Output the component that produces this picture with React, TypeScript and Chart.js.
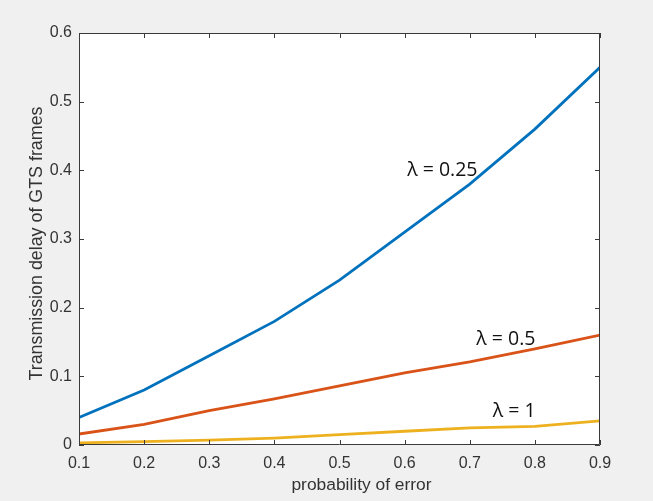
import { useEffect, useRef } from 'react';
import { Chart, registerables } from 'chart.js';

Chart.register(...registerables);

const errorProbability = [0.1, 0.2, 0.3, 0.4, 0.5, 0.6, 0.7, 0.8, 0.9];
const delayLambda025 = [0.04, 0.08, 0.13, 0.18, 0.24, 0.31, 0.38, 0.46, 0.55];
const delayLambda05 = [0.016, 0.03, 0.05, 0.067, 0.086, 0.105, 0.121, 0.14, 0.16];
const delayLambda1 = [0.003, 0.005, 0.007, 0.01, 0.015, 0.02, 0.025, 0.027, 0.035];

const xTickValues = [0.1, 0.2, 0.3, 0.4, 0.5, 0.6, 0.7, 0.8, 0.9];
const yTickValues = [0, 0.1, 0.2, 0.3, 0.4, 0.5, 0.6];

const seriesNames = ['λ = 0.25', 'λ = 0.5', 'λ = 1'];
const annotationX = [0.604, 0.71, 0.7355];
const annotationY = [0.392, 0.1456, 0.041];

const xTitle = 'probability of error';
const yTitle = 'Transmission delay of GTS frames';

const COLORS = ['#0072BD', '#D95319', '#EDB120'];
const AXIS_COLOR = '#3a3a3a';
const TEXT_COLOR = '#333333';

const matlabFrame = {
  id: 'matlabFrame',
  beforeDraw(chart: any) {
    const { ctx, chartArea: a, width, height } = chart;
    ctx.save();
    ctx.fillStyle = '#f0f0f0';
    ctx.fillRect(0, 0, width, height);
    ctx.fillStyle = '#ffffff';
    ctx.fillRect(a.left, a.top, a.right - a.left, a.bottom - a.top);
    ctx.restore();
  },
  afterDraw(chart: any) {
    const { ctx, chartArea: a, scales } = chart;
    ctx.save();
    // series annotations
    ctx.font = '19.5px "Open Sans"';
    ctx.fillStyle = '#111111';
    ctx.textAlign = 'left';
    ctx.textBaseline = 'alphabetic';
    seriesNames.forEach((name, i) => {
      const px = scales.x.getPixelForValue(annotationX[i]);
      const py = scales.y.getPixelForValue(annotationY[i]);
      ctx.fillText(name, px, py);
    });
    // axis titles
    ctx.fillStyle = TEXT_COLOR;
    ctx.font = '17.4px "Liberation Sans"';
    ctx.textAlign = 'center';
    ctx.fillText(xTitle, (a.left + a.right) / 2 + 22, a.bottom + 45);
    ctx.save();
    ctx.translate(a.left - 37, (a.top + a.bottom) / 2 + 4.5);
    ctx.rotate(-Math.PI / 2);
    ctx.font = '17.85px "Liberation Sans"';
    ctx.fillText(yTitle, 0, 0);
    ctx.restore();
    // box
    ctx.strokeStyle = AXIS_COLOR;
    ctx.lineWidth = 1;
    ctx.beginPath();
    ctx.rect(a.left + 0.5, a.top + 0.5, a.right - a.left - 1, a.bottom - a.top - 1);
    ctx.stroke();
    const tl = 5;
    ctx.beginPath();
    xTickValues.forEach((v) => {
      const px = Math.round(scales.x.getPixelForValue(v)) + 0.5;
      ctx.moveTo(px, a.bottom);
      ctx.lineTo(px, a.bottom - tl);
      ctx.moveTo(px, a.top);
      ctx.lineTo(px, a.top + tl);
    });
    yTickValues.forEach((v) => {
      const py = Math.round(scales.y.getPixelForValue(v)) + 0.5;
      ctx.moveTo(a.left, py);
      ctx.lineTo(a.left + tl, py);
      ctx.moveTo(a.right, py);
      ctx.lineTo(a.right - tl, py);
    });
    ctx.stroke();
    ctx.restore();
  },
};

export default function App() {
  const canvasRef = useRef<HTMLCanvasElement | null>(null);

  useEffect(() => {
    if (!canvasRef.current) return;
    const seriesValues = [delayLambda025, delayLambda05, delayLambda1];
    const chart = new Chart(canvasRef.current, {
      type: 'line',
      data: {
        datasets: seriesValues.map((vals, i) => ({
          label: seriesNames[i],
          data: errorProbability.map((x, j) => ({ x, y: vals[j] })),
          borderColor: COLORS[i],
          backgroundColor: COLORS[i],
          borderWidth: 2.8,
          pointRadius: 0,
          tension: 0,
          fill: false,
        })),
      },
      options: {
        animation: false,
        responsive: false,
        devicePixelRatio: 1,
        layout: { padding: { top: 33, right: 53, left: 0, bottom: 0 } },
        plugins: {
          legend: { display: false },
          tooltip: { enabled: false },
        },
        scales: {
          x: {
            type: 'linear',
            min: 0.1,
            max: 0.9,
            grid: { display: false, drawTicks: false },
            border: { display: false },
            afterBuildTicks: (s: any) => {
              s.ticks = xTickValues.map((v) => ({ value: v }));
            },
            afterFit: (s: any) => {
              s.height = 56;
            },
            ticks: {
              padding: 9,
              color: TEXT_COLOR,
              font: { family: 'Liberation Sans', size: 16 },
              maxRotation: 0,
              callback: (v: any) => String(Number(v)),
            },
            title: { display: false },
          },
          y: {
            type: 'linear',
            min: 0,
            max: 0.6,
            grid: { display: false, drawTicks: false },
            border: { display: false },
            afterBuildTicks: (s: any) => {
              s.ticks = yTickValues.map((v) => ({ value: v }));
            },
            afterFit: (s: any) => {
              s.width = 79;
            },
            ticks: {
              padding: 7,
              color: TEXT_COLOR,
              font: { family: 'Liberation Sans', size: 16 },
              callback: (v: any) => String(Number(v)),
            },
            title: { display: false },
          },
        },
      },
      plugins: [matlabFrame],
    });
    return () => chart.destroy();
  }, []);

  return (
    <div style={{ position: 'fixed', left: 0, top: 0, width: 653, height: 501 }}>
      <canvas ref={canvasRef} width={653} height={501} />
    </div>
  );
}
